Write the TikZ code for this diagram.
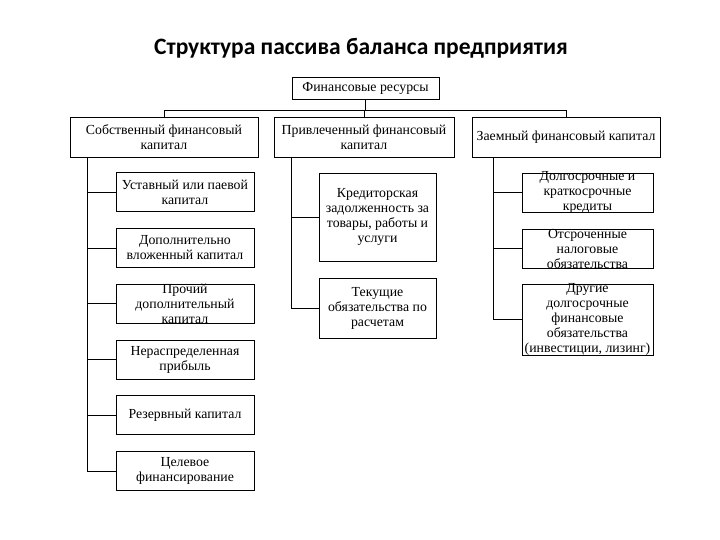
\documentclass[tikz,border=0pt]{standalone}
\usepackage{fontspec}
\setmainfont{Liberation Serif}
\newfontfamily\titlefont{Carlito}
\usetikzlibrary{calc}
\begin{document}
\begin{tikzpicture}[x=1pt,y=-1pt,
  box/.style={draw, line width=0.8pt, inner sep=0pt, minimum width=#1},
  txt/.style={font=\fontsize{13.8}{15}\selectfont, align=center},
  conn/.style={line width=0.8pt}]
\useasboundingbox (0,0) rectangle (720,540);
\node[font=\titlefont\bfseries\fontsize{23.5}{26}\selectfont] (title) at (361,48) {Структура пассива баланса предприятия};
% level 1
\node[box=147pt, minimum height=22pt, label={[txt]center:Финансовые ресурсы}] (fr) at (365.5,88) {};
% level 2
\node[box=188pt, minimum height=40pt, label={[txt]center:Собственный финансовый\\капитал}] (own) at (164,137) {};
\node[box=180pt, minimum height=40pt, label={[txt]center:Привлеченный финансовый\\капитал}] (att) at (364,137) {};
\node[box=188pt, minimum height=40pt, label={[txt]center:Заемный финансовый капитал}] (loan) at (566,137) {};
% left column
\node[box=138pt, minimum height=39pt, label={[txt]center:Уставный или паевой\\капитал}] (l1) at (185,192) {};
\node[box=138pt, minimum height=39pt, label={[txt]center:Дополнительно\\вложенный капитал}] (l2) at (185,248) {};
\node[box=138pt, minimum height=39pt, label={[txt]center:Прочий\\дополнительный\\капитал}] (l3) at (185,303.5) {};
\node[box=138pt, minimum height=39pt, label={[txt]center:Нераспределенная\\прибыль}] (l4) at (185,359.5) {};
\node[box=138pt, minimum height=39pt, label={[txt]center:Резервный капитал}] (l5) at (185,415) {};
\node[box=138pt, minimum height=39pt, label={[txt]center:Целевое\\финансирование}] (l6) at (185,471) {};
% middle column
\node[box=117pt, minimum height=88pt, label={[txt]center:Кредиторская\\задолженность за\\товары, работы и\\услуги}] (m1) at (377.5,217) {};
\node[box=117pt, minimum height=60pt, label={[txt]center:Текущие\\обязательства по\\расчетам}] (m2) at (377.5,308) {};
% right column
\node[box=131pt, minimum height=39pt, label={[txt]center:Долгосрочные и\\краткосрочные\\кредиты}] (r1) at (587.5,192.5) {};
\node[box=131pt, minimum height=39pt, label={[txt]center:Отсроченные\\налоговые\\обязательства}] (r2) at (587.5,248.5) {};
\node[box=131pt, minimum height=71pt, label={[txt]center:Другие\\долгосрочные\\финансовые\\обязательства\\(инвестиции, лизинг)}] (r3) at (587.5,319.5) {};
% connectors
\coordinate (bus) at (365.5,110);
\draw[conn] (fr.south) -- (bus);
\draw[conn] (own.north) |- (bus);
\draw[conn] (loan.north) |- (bus);
\draw[conn] (att.north) -- (att.north |- bus);
\coordinate (tl) at ($(own.south west)+(18,0)$);
\coordinate (tm) at ($(att.south west)+(18,0)$);
\coordinate (tr) at ($(loan.south west)+(22,0)$);
\draw[conn] (tl) |- (l6.west);
\foreach \n in {l1,l2,l3,l4,l5} \draw[conn] (tl |- \n.west) -- (\n.west);
\draw[conn] (tm) |- (m2.west);
\draw[conn] (tm |- m1.west) -- (m1.west);
\draw[conn] (tr) |- (r3.west);
\foreach \n in {r1,r2} \draw[conn] (tr |- \n.west) -- (\n.west);
\end{tikzpicture}
\end{document}
